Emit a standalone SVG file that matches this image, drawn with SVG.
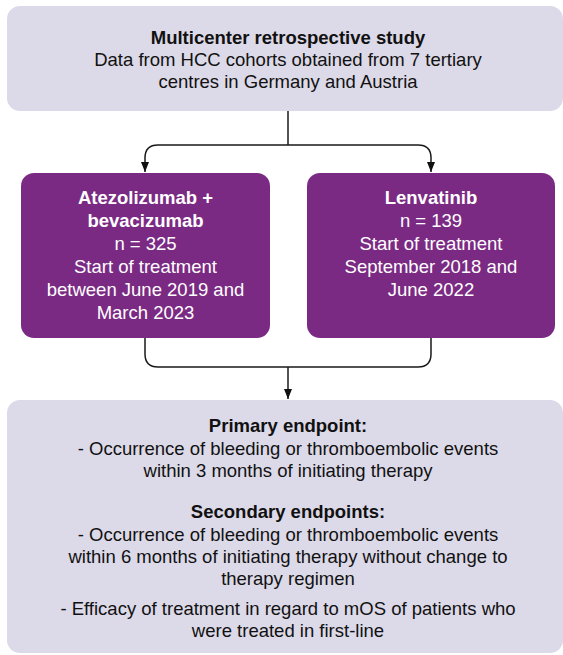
<svg xmlns="http://www.w3.org/2000/svg" width="563" height="655" viewBox="0 0 563 655">
<style>
.lav{fill:#dcd9e8}
.pur{fill:#7b2a84}
text{font-family:"Liberation Sans",Arial,sans-serif;font-size:18.5px;text-anchor:middle}
.b{font-weight:bold}
.w{fill:#ffffff}
.k{fill:#111111}
.c{fill:none;stroke:#1a1a1a;stroke-width:1.5}
</style>
<defs>
<marker id="ah" viewBox="0 0 10 10" refX="10" refY="5" markerWidth="10" markerHeight="10" markerUnits="userSpaceOnUse" orient="auto">
<path d="M0,1 L10,5 L0,9 Z" fill="#111"/>
</marker>
</defs>
<g id="connectors">
<path class="c" d="M288,111 V145"/>
<path class="c" d="M288,145 H158 Q145,145 145,158 V172" marker-end="url(#ah)"/>
<path class="c" d="M288,145 H418 Q431,145 431,158 V172" marker-end="url(#ah)"/>
<path class="c" d="M145,338 V354 Q145,367 158,367 H418 Q431,367 431,354 V338"/>
<path class="c" d="M288,367 V399" marker-end="url(#ah)"/>
</g>
<g id="study">
<rect class="lav" x="7" y="6" width="556" height="105" rx="13"/>
<text class="k b" x="288" y="44">Multicenter retrospective study</text>
<text class="k" x="288" y="66">Data from HCC cohorts obtained from 7 tertiary</text>
<text class="k" x="288" y="88">centres in Germany and Austria</text>
</g>
<g id="atezo">
<rect class="pur" x="21" y="173" width="249" height="165" rx="13"/>
<text class="w b" x="145.5" y="204">Atezolizumab +</text>
<text class="w b" x="145.5" y="227">bevacizumab</text>
<text class="w" x="145.5" y="250">n = 325</text>
<text class="w" x="145.5" y="273">Start of treatment</text>
<text class="w" x="145.5" y="296">between June 2019 and</text>
<text class="w" x="145.5" y="319">March 2023</text>
</g>
<g id="lenva">
<rect class="pur" x="307" y="173" width="248" height="165" rx="13"/>
<text class="w b" x="431" y="204">Lenvatinib</text>
<text class="w" x="431" y="227">n = 139</text>
<text class="w" x="431" y="250">Start of treatment</text>
<text class="w" x="431" y="273">September 2018 and</text>
<text class="w" x="431" y="296">June 2022</text>
</g>
<g id="endpoints">
<rect class="lav" x="7" y="400" width="556" height="253" rx="13"/>
<text class="k b" x="288" y="432">Primary endpoint:</text>
<text class="k" x="288" y="455">- Occurrence of bleeding or thromboembolic events</text>
<text class="k" x="288" y="477">within 3 months of initiating therapy</text>
<text class="k b" x="288" y="518">Secondary endpoints:</text>
<text class="k" x="288" y="541">- Occurrence of bleeding or thromboembolic events</text>
<text class="k" x="288" y="563">within 6 months of initiating therapy without change to</text>
<text class="k" x="288" y="585">therapy regimen</text>
<text class="k" x="288" y="615">- Efficacy of treatment in regard to mOS of patients who</text>
<text class="k" x="288" y="637">were treated in first-line</text>
</g>
</svg>
